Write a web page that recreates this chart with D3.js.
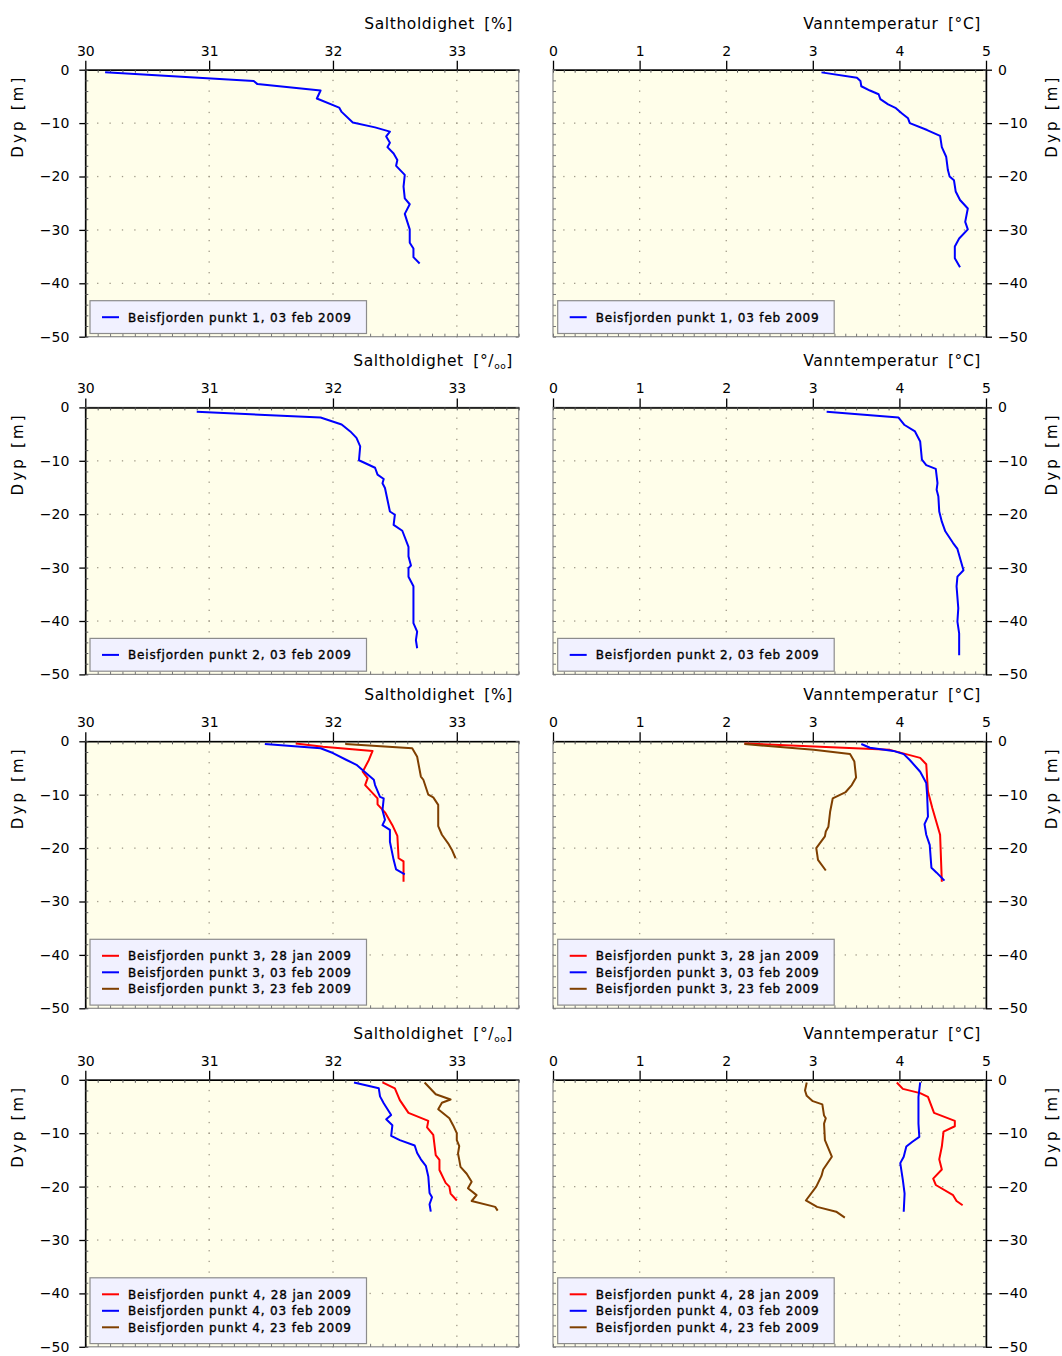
<!DOCTYPE html>
<html><head><meta charset="utf-8">
<script src="https://cdn.jsdelivr.net/npm/d3@7"></script>
<style>body{margin:0;background:#fff}</style>
</head><body>
<svg id="c" width="1062" height="1356" xmlns="http://www.w3.org/2000/svg"></svg>
<script>
// ---------------- DATA: [value, depth] ----------------
const salXTicks = [30, 31, 32, 33];
const tempXTicks = [0, 1, 2, 3, 4, 5];
const depthTicks = [0, -10, -20, -30, -40, -50];

const sal_p1_03feb = [[30.16,-0.5],[31.36,-2.1],[31.39,-2.7],[31.90,-3.9],[31.87,-5.4],[32.05,-7.1],[32.07,-7.9],[32.16,-9.9],[32.34,-10.8],[32.46,-11.6],[32.43,-12.5],[32.46,-13.7],[32.44,-14.5],[32.49,-15.7],[32.52,-16.9],[32.51,-18.0],[32.58,-19.7],[32.57,-21.9],[32.58,-24.1],[32.62,-25.2],[32.58,-27.0],[32.62,-29.9],[32.62,-32.4],[32.65,-33.5],[32.65,-35.1],[32.70,-36.3]];
const temp_p1_03feb = [[3.10,-0.5],[3.51,-1.5],[3.55,-2.1],[3.56,-3.1],[3.66,-3.9],[3.76,-4.6],[3.78,-5.5],[3.87,-6.5],[3.96,-7.2],[4.03,-8.2],[4.10,-9.1],[4.12,-10.0],[4.32,-11.3],[4.47,-12.4],[4.49,-14.5],[4.54,-16.3],[4.56,-18.8],[4.58,-20.0],[4.63,-20.7],[4.65,-22.8],[4.70,-24.4],[4.79,-26.0],[4.76,-28.5],[4.79,-29.9],[4.69,-31.6],[4.64,-33.1],[4.64,-35.3],[4.70,-37.0]];

const sal_p2_03feb = [[30.90,-0.8],[31.90,-1.9],[32.07,-3.2],[32.14,-4.5],[32.19,-5.7],[32.22,-7.3],[32.21,-9.9],[32.34,-11.3],[32.36,-12.6],[32.41,-13.4],[32.40,-14.2],[32.42,-15.1],[32.44,-17.3],[32.46,-19.5],[32.50,-20.1],[32.49,-22.0],[32.56,-23.1],[32.61,-26.1],[32.61,-27.9],[32.63,-29.6],[32.61,-30.1],[32.61,-31.7],[32.65,-33.5],[32.65,-36.0],[32.65,-40.4],[32.68,-42.0],[32.67,-43.6],[32.68,-45.1]];
const temp_p2_03feb = [[3.16,-0.8],[3.99,-1.9],[4.06,-3.3],[4.18,-4.5],[4.24,-6.4],[4.26,-9.8],[4.31,-10.8],[4.42,-11.5],[4.44,-14.2],[4.43,-15.4],[4.45,-16.7],[4.46,-19.5],[4.49,-21.4],[4.53,-23.2],[4.62,-25.4],[4.67,-26.5],[4.74,-30.5],[4.67,-31.7],[4.66,-33.5],[4.68,-37.6],[4.67,-40.1],[4.69,-42.3],[4.69,-46.4]];

const sal_p3_28jan = [[31.70,-0.4],[31.92,-1.0],[32.32,-1.8],[32.29,-3.5],[32.24,-5.7],[32.28,-6.9],[32.26,-8.2],[32.36,-10.7],[32.36,-11.8],[32.42,-13.3],[32.48,-15.7],[32.52,-17.7],[32.53,-21.9],[32.57,-22.5],[32.57,-23.5],[32.57,-26.3]];
const sal_p3_03feb = [[31.45,-0.5],[31.90,-1.3],[32.00,-2.2],[32.11,-3.5],[32.19,-4.4],[32.25,-5.6],[32.33,-7.2],[32.34,-8.2],[32.38,-10.4],[32.41,-10.7],[32.40,-12.9],[32.42,-14.7],[32.40,-15.7],[32.46,-16.6],[32.46,-18.8],[32.49,-22.2],[32.51,-24.0],[32.58,-24.9]];
const sal_p3_23feb = [[32.10,-0.5],[32.64,-1.3],[32.68,-2.9],[32.71,-6.6],[32.73,-7.2],[32.77,-10.0],[32.81,-10.5],[32.85,-11.9],[32.85,-14.1],[32.85,-15.9],[32.88,-17.5],[32.93,-19.1],[32.96,-20.3],[32.99,-21.9]];
const temp_p3_28jan = [[2.21,-0.4],[3.89,-1.6],[4.24,-3.1],[4.31,-4.3],[4.33,-9.4],[4.38,-12.5],[4.47,-17.5],[4.49,-26.3]];
const temp_p3_03feb = [[3.56,-0.5],[3.66,-1.2],[3.93,-1.8],[4.05,-2.4],[4.12,-3.5],[4.24,-5.7],[4.31,-7.8],[4.32,-10.0],[4.33,-14.1],[4.29,-15.5],[4.31,-17.5],[4.35,-19.4],[4.37,-23.7],[4.43,-24.6],[4.52,-26.1]];
const temp_p3_23feb = [[2.21,-0.5],[3.01,-1.6],[3.43,-2.4],[3.48,-3.8],[3.50,-6.8],[3.45,-8.2],[3.38,-9.5],[3.23,-10.7],[3.20,-13.2],[3.18,-16.0],[3.15,-16.9],[3.14,-17.8],[3.04,-20.0],[3.06,-22.2],[3.15,-24.2]];

const sal_p4_28jan = [[32.40,-0.5],[32.50,-1.6],[32.54,-3.8],[32.61,-6.2],[32.77,-7.7],[32.76,-8.9],[32.81,-10.3],[32.83,-14.1],[32.86,-15.0],[32.86,-16.9],[32.91,-19.3],[32.94,-20.0],[32.95,-21.3],[33.00,-22.6]];
const sal_p4_03feb = [[32.17,-0.5],[32.37,-1.6],[32.38,-3.1],[32.41,-4.4],[32.47,-6.6],[32.43,-7.4],[32.48,-8.5],[32.47,-10.5],[32.54,-11.3],[32.66,-12.3],[32.68,-13.7],[32.71,-14.9],[32.75,-16.1],[32.77,-18.1],[32.78,-21.2],[32.80,-22.0],[32.78,-23.3],[32.79,-24.7]];
const sal_p4_23feb = [[32.74,-0.5],[32.83,-2.7],[32.95,-3.7],[32.88,-4.3],[32.85,-5.5],[32.94,-7.2],[32.97,-8.5],[33.00,-10.0],[33.00,-11.3],[33.02,-12.4],[33.01,-13.8],[33.02,-15.0],[33.03,-16.3],[33.08,-17.6],[33.12,-19.1],[33.09,-20.3],[33.16,-21.6],[33.12,-22.7],[33.31,-23.8],[33.33,-24.5]];
const temp_p4_28jan = [[3.97,-0.5],[4.04,-1.7],[4.24,-2.5],[4.33,-3.2],[4.40,-6.2],[4.64,-7.7],[4.64,-8.7],[4.51,-9.7],[4.49,-12.5],[4.46,-14.9],[4.49,-16.8],[4.39,-18.5],[4.42,-19.7],[4.62,-21.6],[4.66,-22.7],[4.73,-23.5]];
const temp_p4_03feb = [[4.24,-0.5],[4.22,-3.2],[4.22,-8.2],[4.23,-10.7],[4.15,-11.6],[4.08,-12.5],[4.05,-14.4],[4.01,-15.6],[4.04,-18.8],[4.06,-21.3],[4.05,-24.7]];
const temp_p4_23feb = [[2.93,-0.5],[2.91,-2.0],[2.93,-3.0],[3.00,-4.0],[3.11,-4.6],[3.13,-6.7],[3.15,-7.2],[3.13,-8.2],[3.14,-11.3],[3.22,-14.4],[3.12,-16.8],[3.10,-18.0],[3.04,-20.0],[2.92,-22.6],[3.05,-23.8],[3.27,-24.7],[3.37,-25.8]];

const seriesLabels = {
  p1: ["Beisfjorden punkt 1, 03 feb 2009"],
  p2: ["Beisfjorden punkt 2, 03 feb 2009"],
  p3: ["Beisfjorden punkt 3, 28 jan 2009","Beisfjorden punkt 3, 03 feb 2009","Beisfjorden punkt 3, 23 feb 2009"],
  p4: ["Beisfjorden punkt 4, 28 jan 2009","Beisfjorden punkt 4, 03 feb 2009","Beisfjorden punkt 4, 23 feb 2009"]
};

// ---------------- STYLE ----------------
const RED = "#ff0000", BLUE = "#0000ff", BROWN = "#7f3f00";
const FONT = "'DejaVu Sans', sans-serif";
const PLOT_BG = "#fffeea", LEG_BG = "#f1f1ff";

const rows = [
  {top: 69.7, unit: "pct", sal: [[sal_p1_03feb, BLUE]], temp: [[temp_p1_03feb, BLUE]], labels: seriesLabels.p1, colors: [BLUE]},
  {top: 407.4, unit: "pm", sal: [[sal_p2_03feb, BLUE]], temp: [[temp_p2_03feb, BLUE]], labels: seriesLabels.p2, colors: [BLUE]},
  {top: 741.3, unit: "pct", sal: [[sal_p3_28jan, RED],[sal_p3_03feb, BLUE],[sal_p3_23feb, BROWN]], temp: [[temp_p3_28jan, RED],[temp_p3_03feb, BLUE],[temp_p3_23feb, BROWN]], labels: seriesLabels.p3, colors: [RED, BLUE, BROWN]},
  {top: 1079.8, unit: "pm", sal: [[sal_p4_28jan, RED],[sal_p4_03feb, BLUE],[sal_p4_23feb, BROWN]], temp: [[temp_p4_28jan, RED],[temp_p4_03feb, BLUE],[temp_p4_23feb, BROWN]], labels: seriesLabels.p4, colors: [RED, BLUE, BROWN]}
];

const svg = d3.select("#c");
const H = 267;

function fmtDepth(d){ return d === 0 ? "0" : "\u2212" + Math.abs(d); }

function drawPanel(row, side) {
  const isSal = side === "left";
  const x0 = isSal ? 85.3 : 553, x1 = isSal ? 518.7 : 986;
  const x = d3.scaleLinear().domain(isSal ? [30, 33.5] : [0, 5]).range([x0, x1]);
  const y = d3.scaleLinear().domain([0, -50]).range([row.top, row.top + H]);
  const majors = isSal ? salXTicks : tempXTicks;
  const minorStep = isSal ? 0.1 : 0.125;
  const xMin = d3.range(x.domain()[0], x.domain()[1] + 1e-9, minorStep);
  const yMin = d3.range(0, -50.0001, -2);
  const g = svg.append("g");

  g.append("rect").attr("x", x0).attr("y", row.top).attr("width", x1 - x0).attr("height", H)
    .attr("fill", PLOT_BG);

  // dotted grid at minor intersections along major lines
  const grid = g.append("g").attr("fill", "#a09a88");
  depthTicks.slice(1, -1).forEach(dv => {
    xMin.forEach(xv => grid.append("rect").attr("x", x(xv) - 0.6).attr("y", y(dv) - 0.6).attr("width", 1.3).attr("height", 1.3));
  });
  majors.filter(v => v > x.domain()[0] && v < x.domain()[1]).forEach(xv => {
    yMin.forEach(dv => grid.append("rect").attr("x", x(xv) - 0.6).attr("y", y(dv) - 0.6).attr("width", 1.3).attr("height", 1.3));
  });

  // frame
  g.append("rect").attr("x", x0).attr("y", row.top).attr("width", x1 - x0).attr("height", H)
    .attr("fill", "none").attr("stroke", "#8a8a8a").attr("stroke-width", 1.2);

  // top axis: major outward labeled
  const topAx = g.append("g").attr("transform", `translate(0,${row.top})`)
    .call(d3.axisTop(x).tickValues(majors).tickSize(9).tickSizeOuter(0).tickFormat(d3.format("d")));
  topAx.select(".domain").attr("stroke", "#000").attr("stroke-width", 1.5);
  topAx.selectAll(".tick line").attr("stroke", "#000").attr("stroke-width", 1.3);
  topAx.selectAll(".tick text").attr("font-family", FONT).attr("font-size", 14).attr("fill", "#000").attr("dy", "-0.15em");
  // top minor inward
  g.append("g").attr("transform", `translate(0,${row.top})`)
    .call(d3.axisBottom(x).tickValues(xMin).tickSize(3).tickSizeOuter(0).tickFormat(""))
    .call(s => { s.select(".domain").remove(); s.selectAll("line").attr("stroke", "#555"); });
  // bottom minor inward
  g.append("g").attr("transform", `translate(0,${row.top + H})`)
    .call(d3.axisTop(x).tickValues(xMin).tickSize(3).tickSizeOuter(0).tickFormat(""))
    .call(s => { s.select(".domain").remove(); s.selectAll("line").attr("stroke", "#777"); });

  // y axis
  const axX = isSal ? x0 : x1;
  const otherX = isSal ? x1 : x0;
  const yAx = g.append("g").attr("transform", `translate(${axX},0)`)
    .call((isSal ? d3.axisLeft(y) : d3.axisRight(y)).tickValues(depthTicks).tickSize(6).tickSizeOuter(0).tickFormat(fmtDepth));
  yAx.select(".domain").attr("stroke", "#000").attr("stroke-width", 1.5);
  yAx.selectAll(".tick line").attr("stroke", "#000").attr("stroke-width", 1.3);
  yAx.selectAll(".tick text").attr("font-family", FONT).attr("font-size", 14).attr("fill", "#000");
  if (isSal) yAx.selectAll(".tick text").attr("x", -16); else yAx.selectAll(".tick text").attr("x", 12);
  // minor y inward on both sides
  g.append("g").attr("transform", `translate(${axX},0)`)
    .call((isSal ? d3.axisRight(y) : d3.axisLeft(y)).tickValues(yMin).tickSize(3).tickSizeOuter(0).tickFormat(""))
    .call(s => { s.select(".domain").remove(); s.selectAll("line").attr("stroke", "#555"); });
  g.append("g").attr("transform", `translate(${otherX},0)`)
    .call((isSal ? d3.axisLeft(y) : d3.axisRight(y)).tickValues(yMin).tickSize(3).tickSizeOuter(0).tickFormat(""))
    .call(s => { s.select(".domain").remove(); s.selectAll("line").attr("stroke", "#777"); });

  // axis label Dyp [m]
  const lx = isSal ? 23 : 1057;
  g.append("text").attr("transform", `translate(${lx},${row.top + 48}) rotate(-90)`)
    .attr("text-anchor", "middle").attr("font-family", FONT).attr("font-size", 15)
    .attr("textLength", 80).attr("lengthAdjust", "spacing")
    .text("Dyp  [m]");

  // title
  const tx = isSal ? 513 : 981;
  const t = g.append("text").attr("x", tx).attr("y", row.top - 41).attr("text-anchor", "end")
    .attr("font-family", FONT).attr("font-size", 15.5).attr("letter-spacing", 0.6).attr("word-spacing", 4);
  if (!isSal) {
    t.text("Vanntemperatur [\u00b0C]");
  } else if (row.unit === "pct") {
    t.text("Saltholdighet [%]");
  } else {
    t.append("tspan").text("Saltholdighet [\u00b0/");
    t.append("tspan").attr("font-size", 9).attr("dy", 3).text("oo");
    t.append("tspan").attr("dy", -3).text("]");
  }

  // lines
  const line = d3.line().x(d => x(d[0])).y(d => y(d[1]));
  const series = isSal ? row.sal : row.temp;
  series.forEach(([data, col]) => {
    g.append("path").attr("d", line(data)).attr("fill", "none").attr("stroke", col)
      .attr("stroke-width", 2).attr("stroke-linejoin", "round");
  });

  // legend
  const n = row.labels.length;
  const bh = 16.5 * n + 16.3;
  const bx = x0 + 4.7, by = row.top + 263.8 - bh;
  const lg = g.append("g");
  lg.append("rect").attr("x", bx).attr("y", by).attr("width", 276.5).attr("height", bh)
    .attr("fill", LEG_BG).attr("stroke", "#8c8c8c").attr("stroke-width", 1.2);
  row.labels.forEach((lab, i) => {
    const ly = by + 16.5 + 16.5 * i;
    lg.append("line").attr("x1", bx + 12).attr("x2", bx + 29).attr("y1", ly).attr("y2", ly)
      .attr("stroke", row.colors[i]).attr("stroke-width", 2);
    lg.append("text").attr("x", bx + 38).attr("y", ly + 4.5).attr("font-family", FONT)
      .attr("font-size", 12).attr("stroke", "#000").attr("stroke-width", 0.35)
      .attr("textLength", 223).attr("lengthAdjust", "spacing")
      .text(lab);
  });
}

rows.forEach(r => { drawPanel(r, "left"); drawPanel(r, "right"); });
</script>
</body></html>
